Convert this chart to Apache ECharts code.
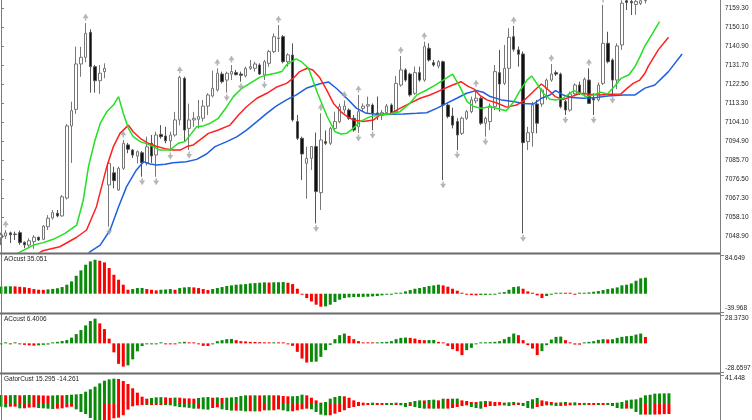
<!DOCTYPE html>
<html>
<head>
<meta charset="utf-8">
<script src="https://cdn.jsdelivr.net/npm/echarts@6/dist/echarts.min.js"></script>
<style>
  html, body { margin: 0; padding: 0; background: #fff; }
  #main { width: 752px; height: 420px; }
</style>
</head>
<body>
<div id="main"></div>
<script>
// candles, one per bar (index 0 .. 137)
var opens = [7048,7048.9,7050.4,7049.8,7050.5,7045.8,7044.5,7046.2,7048.3,7047.3,
  7053.4,7057.6,7059.9,7058.6,7067.3,7102.2,7110.2,7132.2,7135.4,7147.5,
  7130.9,7124.1,7128.5,7073.6,7079.5,7071.2,7081.7,7093,7090.5,7087.6,
  7089.2,7084.1,7093.8,7088.1,7098.1,7097.3,7095,7097.8,7105.1,7125.2,
  7101,7105.1,7105.4,7105.9,7111.8,7116.7,7119.6,7127.3,7124.4,7127.3,
  7128,7127.3,7126.4,7130.1,7130.1,7131.7,7126.9,7132.5,7138.2,7144.5,
  7145.4,7133.3,7136.5,7104.3,7096.2,7084.1,7086.5,7092.2,7069.9,7094.6,
  7093.8,7101,7104.3,7109.9,7109.9,7105.9,7101.8,7110.7,7111.8,7112.3,
  7108.5,7107.5,7108.6,7112.3,7109.1,7122,7129.3,7127.3,7118,7128,
  7124.4,7139.8,7132.8,7131.2,7133.3,7112.3,7107,7104.3,7098.6,7105.9,
  7109.1,7114.3,7115.6,7103.5,7104.3,7111.5,7128,7122.8,7130.1,7145.4,
  7139,7137,7094.6,7098.9,7112.8,7112.8,7120.4,7124.4,7128,7127.3,
  7114,7109.9,7117.7,7122,7118,7124.4,7115.6,7114.8,7122.8,7142.2,
  7134.1,7124.4,7141.4,7162.8,7162.5,7161,7161.5,7162.8];
var highs = [7050.5,7051.8,7051,7051,7051.5,7046.3,7047.8,7049.3,7048.5,7054.2,
  7059,7061.5,7061.5,7068.7,7103.1,7113.9,7140.6,7140.5,7152,7149,
  7131.7,7131.7,7132.5,7085,7082.5,7082.5,7095.4,7094,7091,7090.3,
  7090,7097,7097.8,7099.4,7102.6,7101.8,7099.4,7109,7126.5,7126,
  7113,7109,7114.8,7114.8,7118,7129,7130.1,7128.5,7128.5,7131.7,
  7129.3,7128.5,7130.9,7134.1,7133.3,7132.5,7134.1,7139,7147,7151,
  7146.2,7137.4,7142.2,7107.5,7097,7092.2,7092.5,7099,7108.3,7100,
  7101.8,7109.1,7113,7114.5,7110.7,7107.5,7117.2,7113.1,7116.4,7113.1,
  7116.4,7109.9,7112.8,7113.1,7126.4,7136,7130.1,7128,7130.9,7130.9,
  7143,7142.2,7134.1,7134.1,7133.8,7113.1,7111,7105.9,7106.7,7109.9,
  7116.4,7120,7116.4,7106.7,7113.1,7131.7,7139,7141.4,7149.5,7150.6,
  7140.6,7138.2,7101.8,7113.9,7114.8,7120.4,7125.2,7132.2,7129,7128,
  7114.8,7118.8,7122.8,7123.6,7125.7,7130.1,7118,7123.2,7160.8,7147.8,
  7134.9,7142.2,7163,7164,7164,7164,7164,7164];
var lows = [7044.5,7047.5,7045.5,7047,7044.6,7043,7043,7042.7,7046.5,7046.9,
  7051.8,7056.9,7058,7058.3,7066.6,7084.3,7108,7126,7133,7118.3,
  7118.3,7117.7,7125.3,7053.4,7072,7070.8,7080.9,7089,7086.7,7084,
  7077.6,7083,7084.3,7077.6,7096,7093.8,7090,7097,7102.5,7094.6,
  7090.5,7101.8,7101,7104.3,7107.5,7116,7118.8,7122.8,7118.3,7124.4,
  7126.7,7123.6,7125.7,7129.3,7128.5,7126.9,7124.4,7130.9,7137.4,7138,
  7132.5,7130.9,7104.3,7095.4,7076,7067,7080.9,7055,7061.5,7093,
  7093,7100.2,7103.5,7108.3,7105.1,7099.4,7098.8,7109.1,7108.3,7100.2,
  7105.1,7105.1,7107.5,7107.5,7108.3,7121.2,7123.6,7116.4,7117.2,7123.6,
  7123.6,7133.3,7130.9,7130.1,7076,7105.9,7101,7090.5,7097.8,7105.1,
  7108.3,7113.1,7102.7,7097,7100.2,7109.9,7109.1,7122,7111.5,7138.2,
  7130.9,7050.2,7090.5,7092.2,7098.6,7111.5,7114.8,7123.6,7126.4,7110.7,
  7107.5,7109.1,7116.4,7117.2,7116.4,7112.8,7107.5,7114,7122,7132.5,
  7117.2,7120,7139,7158.3,7155.9,7156,7160.7,7161.5];
var closes = [7049.5,7050.4,7049.5,7049.6,7045.7,7044.6,7046.6,7048.3,7047,7053.7,
  7057.5,7060.2,7058.6,7067.9,7102.2,7109.6,7132.2,7135.4,7147,7130.9,
  7124.1,7127.7,7130.1,7084.1,7075.7,7081.7,7093.8,7090.9,7088.1,7089.7,
  7084.4,7092.1,7087.6,7097.8,7097,7095,7097.8,7105.1,7125.7,7100.2,
  7105.1,7105.9,7106.7,7111.8,7117.2,7120.4,7127.7,7123.6,7127.7,7128.5,
  7127,7126.7,7130.1,7130.9,7132.2,7127.3,7133.3,7138.2,7145.4,7144.8,
  7133.3,7136.6,7105.1,7096.2,7088.6,7086.5,7092.2,7070.4,7095.4,7093.8,
  7101,7104.3,7111.5,7111.8,7105.9,7100.2,7109.1,7111.8,7112.5,7108.3,
  7108.1,7108.6,7111.8,7108.3,7122.8,7129.3,7124.4,7117.2,7128,7124.4,
  7140.6,7134.1,7131.7,7133.3,7112.3,7106.7,7102.6,7097.8,7105.9,7109.1,
  7114.8,7115.6,7103.5,7105.9,7111.8,7128.5,7122.5,7130.1,7145.1,7139.3,
  7136.9,7094.1,7098.9,7112.3,7103.5,7119.6,7124.4,7127.3,7127.3,7111.5,
  7109.9,7117.7,7122,7118,7124.8,7113.1,7114.8,7122,7142.2,7133.3,
  7124.4,7140.9,7161.6,7162,7161.8,7162.5,7162.8,7163];

// bars that carry a fractal arrow
var fractalUp = [1,18,26,38,46,49,59,68,73,76,85,90,101,109,117,125,128];
var fractalDown = [23,30,33,36,40,48,51,56,67,76,79,94,97,103,111,120,126,130];

// alligator lines, [bar, price]
var jaw = [[18.5,7040.5],[19.3,7041.8],[21.1,7044.5],[23.2,7051.8],[25,7063.1],[26.7,7072.8],
  [28.8,7080.9],[30.3,7084.9],[31.7,7083.8],[33.1,7083.3],[34.9,7083.6],[36.6,7084.4],[39.4,7084.9],
  [41.6,7086],[43.7,7088.6],[45.5,7092.2],[48,7094.6],[50.2,7097],[52.2,7100.2],[54.4,7104.3],
  [56.5,7108.3],[58.5,7111.8],[60.7,7114.8],[62.8,7117.2],[64.9,7120.4],[66.3,7121.5],[67.8,7122.6],
  [69.6,7123.5],[71.4,7120.2],[73.5,7115.6],[75.6,7110.7],[77.7,7108.3],[79.9,7107.8],[82.7,7107.8],
  [85.5,7108],[88.4,7108.3],[90.5,7108.6],[92.6,7110.7],[94.7,7113.1],[96.9,7115.6],[99,7118],
  [101,7119.3],[102.5,7118.5],[104,7116.4],[106.4,7114.8],[108.9,7114],[111,7113.1],[113.2,7112.8],
  [114.9,7115.6],[116.7,7117.2],[117.9,7119.3],[119.5,7117.2],[121.3,7116],[123.8,7115.6],
  [126.5,7116],[129,7116.7],[132.3,7117.2],[134.8,7117.2],[136.9,7120.5],[139,7122],[141.9,7128.5],
  [144.8,7137]];
var teeth = [[8,7040.5],[8.9,7041.8],[12.5,7043.7],[16.1,7048.3],[18.2,7051.8],[20.3,7063.1],
  [22.5,7082.5],[23.9,7092.2],[25.3,7098.6],[27.1,7102.6],[28.1,7099.4],[29.6,7096.2],[31.3,7093.8],
  [33.1,7092.2],[34.9,7091.2],[36.5,7090.5],[38.1,7090.5],[39.5,7092.2],[40.9,7093],[42.3,7095.4],
  [44.1,7098.6],[46.2,7100.2],[48.7,7102.6],[50.5,7107.5],[52.2,7111.5],[54.4,7115.6],[56.5,7118],
  [58.5,7120.9],[60.7,7122.8],[62.1,7125.2],[63.5,7128.5],[65.1,7130.1],[66.3,7129.3],[67.7,7125.8],
  [69.2,7119.8],[70.7,7113.1],[72.3,7109],[73.6,7106.7],[74.9,7105.1],[77,7104.3],[79.2,7105.1],
  [80.6,7107.5],[82.7,7108],[84.8,7110.7],[86.9,7113.1],[89.1,7115.6],[91.2,7117.2],[93.3,7119.3],
  [95.5,7121.5],[97.8,7123.6],[99.4,7121.2],[100.6,7120],[101.8,7117],[103.3,7114.8],[105.4,7113.3],
  [107.5,7111.3],[109.6,7112.3],[111.2,7114.5],[113.5,7119.6],[114.9,7122.5],[116.4,7119.6],
  [117.8,7116.4],[119.5,7115],[121.3,7116.4],[123.1,7118],[125.2,7117.5],[127.3,7117.2],
  [129.5,7117.5],[131.8,7117.7],[133.1,7120.4],[134.4,7122.8],[135.8,7124.4],[136.9,7127.7],
  [137.6,7131],[139.7,7138.9],[141.9,7145.1]];
var lips = [[3.5,7040.5],[6.9,7044.5],[9,7045.7],[11.1,7047.3],[13.6,7050.2],[16.1,7054.2],
  [17.5,7066.3],[18.6,7082.5],[20,7095.4],[21.1,7103.4],[22.5,7109.1],[23.9,7112.3],[25,7116.4],
  [26,7108.3],[27.1,7101],[28.1,7097],[29.6,7094.6],[31,7093.5],[32.4,7092.2],[33.8,7090.5],
  [35.9,7090.5],[37.7,7093.8],[39.1,7094.6],[40.5,7098.6],[41.6,7101.8],[43,7102.2],[44.5,7103.5],
  [46.2,7105.9],[48,7111.5],[49.4,7116.4],[51.2,7120.4],[52.9,7122.8],[55,7125.7],[56.5,7126.9],
  [58.3,7127.7],[59.7,7128.5],[60.7,7131.7],[62.7,7134.7],[63.9,7133.3],[65.4,7130],[67.3,7118],
  [69.3,7107],[71,7099.4],[72.3,7098.3],[73.5,7098.6],[74.9,7101],[76.3,7104.3],[78.5,7106.7],
  [80.6,7107.5],[82.7,7108],[84.8,7109.1],[86.9,7113.1],[88.4,7117.2],[90.5,7119.6],[92.3,7122],
  [94,7124.4],[96,7127.3],[97.6,7121],[99.1,7114],[100.5,7111.6],[102,7110.8],[104,7111.5],
  [106.1,7110.3],[107.4,7109.5],[108.9,7113.5],[110.3,7119.2],[111.8,7124.4],[112.8,7126.4],
  [113.9,7122.8],[115.3,7118],[116.7,7115.1],[118.1,7114.8],[119.5,7115.6],[120.9,7118],
  [121.8,7119.3],[123.1,7118],[124.5,7116.4],[125.9,7117.2],[127.5,7118.5],[128.9,7117.7],
  [130.5,7121.5],[131.8,7125.2],[133.5,7127],[134.8,7131],[135.8,7135.5],[136.9,7141],
  [138.3,7146.2],[140,7152.7]];

// indicator panels
var aoValues = [15.5,16,16.3,16,15.2,14.2,12.4,10.2,8.7,8.5,
  9.5,10.5,12,14.6,19.7,27,39.3,51,63.4,70.7,
  74.3,72.1,68.5,56.1,41.5,30.6,19.7,8.7,10.2,12.4,
  12.6,10.2,8.7,7.3,8.7,9.3,10.2,8.7,12.4,13.8,
  14.5,13.8,12.4,10.2,8.0,10.2,12.4,14.6,16.8,18.2,
  19.7,20.4,21.1,22.6,23.3,24.0,24.8,24.4,24.9,25.1,
  25.5,24.0,21.1,10.9,-0.7,-9.5,-16.8,-24.0,-28.4,-27.7,
  -24,-18.2,-13.1,-9.5,-8.0,-7.3,-7.0,-6.9,-6.6,-5.8,
  -5.1,-3.6,-2.2,-1.5,0.2,2.2,5.1,8.0,10.9,12.4,
  14.6,16.8,18.2,19.7,18.2,15.3,10.9,6.6,2.2,-0.7,
  -2.9,-3.6,-2.9,-2.6,-2.2,-1.5,0,3.6,8.7,14.6,
  16.0,10.9,5.1,0.7,-3.6,-9.5,-5.1,-1.5,0.7,2.2,
  1.5,0.7,-0.4,0,1.5,2.9,4.4,5.8,8.0,10.2,
  11.7,13.8,18.2,19.7,22.6,28.4,33.5,35.051];
var acValues = [-0.3,0.3,-0.3,0.2,-0.5,-1.5,-2,-2.3,-2,-1.5,
  -1.2,0.5,1.5,2.3,3.3,5.7,9.3,13.3,18,22.3,
  24.7,20,14.3,4.7,-9,-20.5,-23.3,-22,-16,-8,
  -2.7,-0.8,-0.4,-0.3,0.3,-0.3,-0.5,-0.8,0.3,1.5,
  0.5,0.3,-0.5,-2.5,-2.6,-0.5,2.2,3.2,4.2,4.4,
  3.2,2.2,1.9,1.5,1.4,1.2,0.8,0.5,0.6,0.5,
  0.4,-0.3,-2.5,-8.5,-15.2,-19.2,-18.5,-18.3,-13.5,-6.8,
  -1.5,4.2,8.2,9.8,7.5,4.2,2.2,0.8,0.5,0.4,
  0.8,1.2,1.5,2.2,4.2,5.5,5.8,5.5,4.8,3.5,
  3.2,3.3,3.4,1.5,0.8,-2.5,-5.8,-7.8,-11.8,-6.8,
  -4.5,-0.5,0.3,0.8,1.2,1.5,2.2,4.2,6.5,9.8,
  8.2,3.2,-1.8,-5.2,-11.8,-7.8,-1.8,3.8,6.5,6.8,
  3.2,0.8,-1.2,-1.3,0.5,1.5,2.2,3.5,4.2,4.0,
  4.1,5.5,6.5,7.2,7.5,8.8,9.8,6.4006];
var gatorUp = [12.9,12.4,12.6,12.9,12.4,12.6,12.9,12.6,12.4,12.2,
  12.0,12.2,12.6,12.4,12.9,13.3,13.8,14.3,17.6,21,
  24.8,29.5,33.3,35.2,36.2,35.7,32.9,28.6,22.4,16.2,
  10.5,7.6,8.6,9.5,9.8,9.5,8.8,9.2,9.0,8.1,
  8.0,7.6,8.6,9.5,10.0,9.0,9.5,8.6,9.0,9.5,
  10.0,11.4,12.4,12.3,12.4,12.3,12.4,12.5,12.4,12.3,
  11.4,11.0,11.1,11.4,13.3,12.4,9.0,5.2,1.9,2.9,
  7.6,10.0,11.4,11.0,9.0,5.2,2.9,1.9,1.4,1.9,
  1.4,1.5,1.4,1.5,1.9,0.5,0.6,2.9,4.3,5.2,
  5.1,5.7,6.2,5.2,7.6,7.5,7.6,7.7,5.2,4.3,
  2.9,2.8,3.8,4.3,3.8,2.9,2.8,1.9,2.4,2.9,
  1.9,0.5,4.3,6.7,8.6,5.2,3.8,2.9,1.9,2.4,
  2.9,1.9,2.4,1.4,1.5,1.4,1.5,1.4,0.5,0.6,
  0.5,1.9,2.9,5.2,6.2,6.7,9.0,12.4,13.3,14.8,
  15.0,15.2,15.295];
var gatorDown = [-3.8,-4.8,-3.8,-3.8,-6.2,-6.2,-5.2,-4.8,-5.7,-6.2,
  -6.7,-7.1,-6.7,-6.2,-4.8,-3.8,-7.6,-11.4,-14.3,-20,
  -24.8,-27,-25,-23,-20.5,-19.5,-16,-8,-3.3,-1.9,
  -1,-1.4,-0.7,-0.3,-0.3,-1,-1.9,-3.3,-4.3,-4.8,
  -5.5,-6.7,-6.7,-7.6,-8.1,-5.7,-4.8,-7.6,-8.6,-9.5,
  -9.5,-9.6,-10.5,-10.4,-10.6,-10.5,-9.0,-9.1,-9.0,-7.6,
  -9.0,-10.5,-10.4,-9.0,-7.6,-6.7,-7.6,-11.4,-15.2,-16.2,
  -16.1,-13.8,-11.4,-9.0,-5.7,-4.3,-2.9,-1.9,-1.0,-1.1,
  -0.5,-0.4,-0.5,-1.0,-0.9,-1.9,-4.3,-2.9,-4.3,-5.7,
  -6.7,-6.6,-6.7,-6.6,-6.7,-6.6,-5.7,-4.3,-2.9,-1.9,
  -4.3,-5.7,-6.7,-4.3,-2.9,-2.8,-1.9,-2.0,-2.9,-1.0,
  -0.9,-2.9,-5.7,-6.7,-4.3,-2.9,-1.9,-2.0,-2.9,-2.8,
  -2.4,-1.9,-2.0,-1.4,-1.5,-1.0,-0.9,-1.0,-0.9,-1.0,
  -2.9,-5.7,-6.7,-6.6,-6.7,-11.4,-15.2,-15.1,-15.2,-15.1,
  -14.8,-14.5,-14.261];

// axis labels
var priceTicks = [7159.30,7150.10,7140.90,7131.70,7122.50,7113.30,7104.10,7094.90,7085.70,7076.50,7067.30,7058.10,7048.90];
var aoScale = ['-39.968', '84.649'];
var acScale = ['-28.6597', '28.3730'];
var gatorScale = ['41.448'];

var FONT = 'Liberation Sans';
var GREEN = '#0a8a0a', RED = '#ff0000';
var NBARS = 153;              // slots across the plot, incl. the shifted lines
var gridLeft = -1.38, gridWidth = 719.71;

var cats = [];
for (var i = 0; i < NBARS; i++) cats.push(i);

var candles = [];
for (var i = 0; i < opens.length; i++) {
  candles.push([opens[i], closes[i], lows[i], highs[i]]);
}

// green when the bar grew against the previous one, red otherwise
function trendBars(vals, useAbs) {
  return vals.map(function (v, i) {
    var a = useAbs ? Math.abs(v) : v;
    var p = i > 0 ? (useAbs ? Math.abs(vals[i - 1]) : vals[i - 1]) : a - 1;
    return { value: v, itemStyle: { color: a > p ? GREEN : RED } };
  });
}

function scaleAxis(grid, labels, min, max, minAlign) {
  var nums = labels.map(Number);
  return {
    type: 'value', gridIndex: grid, position: 'right', offset: 2.7,
    min: min, max: max,
    axisLine: { show: false },
    splitLine: { show: false },
    axisTick: { show: true, length: 3, customValues: nums, lineStyle: { color: '#808080' } },
    axisLabel: {
      customValues: nums, margin: 4, fontSize: 6.5, color: '#222', fontFamily: FONT,
      verticalAlignMinLabel: minAlign || 'bottom', verticalAlignMaxLabel: 'top',
      formatter: function (v) {
        var best = 0;
        for (var j = 1; j < nums.length; j++) {
          if (Math.abs(nums[j] - v) < Math.abs(nums[best] - v)) best = j;
        }
        return labels[best];
      }
    }
  };
}

var upArrow = 'path://M4,0 L8,6 L5,6 L5,9 L3,9 L3,6 L0,6 Z';
var downArrow = 'path://M3,0 L5,0 L5,3 L8,3 L4,9 L0,3 L3,3 Z';

var myChart = echarts.init(document.getElementById('main'), null, { renderer: 'canvas' });

function catAxis(g) {
  return { type: 'category', gridIndex: g, data: cats, boundaryGap: true, show: false };
}
function gridAt(top, height) {
  return { left: gridLeft, width: gridWidth, top: top, height: height, outerBoundsMode: 'none', containLabel: false };
}

var last = aoValues.length - 1;

myChart.setOption({
  animation: false,
  backgroundColor: '#fff',
  title: [
    { text: 'AOcust ' + aoValues[last], left: 4, top: 256, padding: 0,
      textStyle: { fontSize: 6.5, fontWeight: 'normal', color: '#222', fontFamily: FONT } },
    { text: 'ACcust ' + acValues[last], left: 4, top: 316, padding: 0,
      textStyle: { fontSize: 6.5, fontWeight: 'normal', color: '#222', fontFamily: FONT } },
    { text: 'GatorCust ' + gatorUp[gatorUp.length - 1] + ' ' + gatorDown[gatorDown.length - 1], left: 4, top: 376, padding: 0,
      textStyle: { fontSize: 6.5, fontWeight: 'normal', color: '#222', fontFamily: FONT } }
  ],
  grid: [gridAt(0, 252), gridAt(255, 57), gridAt(315, 57), gridAt(375, 58)],
  xAxis: [
    catAxis(0), catAxis(1), catAxis(2), catAxis(3),
    { type: 'value', gridIndex: 0, min: -0.5, max: NBARS - 0.5, show: false }
  ],
  yAxis: [
    {
      type: 'value', gridIndex: 0, position: 'right', offset: 2.7,
      min: 7041.15, max: 7163.17,
      axisLine: { show: false },
      splitLine: { show: false },
      axisTick: { show: true, length: 3, customValues: priceTicks, lineStyle: { color: '#808080' } },
      axisLabel: {
        customValues: priceTicks, margin: 4, fontSize: 6.5, color: '#222', fontFamily: FONT,
        formatter: function (v) { return v.toFixed(2); }
      }
    },
    scaleAxis(1, aoScale, Number(aoScale[0]), Number(aoScale[1])),
    scaleAxis(2, acScale, Number(acScale[0]), Number(acScale[1])),
    scaleAxis(3, gatorScale, -Number(gatorScale[0]), Number(gatorScale[0]), 'top')
  ],
  series: [
    {
      type: 'candlestick', xAxisIndex: 0, yAxisIndex: 0, data: candles,
      barWidth: 3, z: 2,
      itemStyle: { color: '#ffffff', color0: '#111111', borderColor: '#777777', borderColor0: '#555555', borderWidth: 1 }
    },
    { type: 'line', xAxisIndex: 4, yAxisIndex: 0, data: jaw, showSymbol: false, z: 3, clip: true,
      lineStyle: { color: '#1f5fe0', width: 1.5 } },
    { type: 'line', xAxisIndex: 4, yAxisIndex: 0, data: teeth, showSymbol: false, z: 3, clip: true,
      lineStyle: { color: '#ff2020', width: 1.5 } },
    { type: 'line', xAxisIndex: 4, yAxisIndex: 0, data: lips, showSymbol: false, z: 3, clip: true,
      lineStyle: { color: '#22e022', width: 1.5 } },
    { type: 'scatter', xAxisIndex: 4, yAxisIndex: 0, z: 4,
      data: fractalUp.map(function (k) { return [k, highs[k]]; }),
      symbol: upArrow, symbolSize: [6, 7], symbolOffset: [0, -6],
      itemStyle: { color: '#a4a4a4' } },
    { type: 'scatter', xAxisIndex: 4, yAxisIndex: 0, z: 4,
      data: fractalDown.map(function (k) { return [k, lows[k]]; }),
      symbol: downArrow, symbolSize: [6, 7], symbolOffset: [0, 5],
      itemStyle: { color: '#a4a4a4' } },
    { type: 'bar', xAxisIndex: 1, yAxisIndex: 1, data: trendBars(aoValues, false), barWidth: 3, barMinHeight: 1 },
    { type: 'bar', xAxisIndex: 2, yAxisIndex: 2, data: trendBars(acValues, false), barWidth: 3, barMinHeight: 1 },
    { type: 'bar', xAxisIndex: 3, yAxisIndex: 3, data: trendBars(gatorUp, true), barWidth: 3, barMinHeight: 1, barGap: '-100%' },
    { type: 'bar', xAxisIndex: 3, yAxisIndex: 3, data: trendBars(gatorDown, true), barWidth: 3, barMinHeight: 1, barGap: '-100%' }
  ],
  graphic: [
    { type: 'rect', z: 100, shape: { x: 0, y: 252.5, width: 721, height: 2 }, style: { fill: '#6b6b6b' } },
    { type: 'rect', z: 100, shape: { x: 0, y: 312.5, width: 721, height: 2 }, style: { fill: '#6b6b6b' } },
    { type: 'rect', z: 100, shape: { x: 0, y: 372.5, width: 721, height: 2 }, style: { fill: '#6b6b6b' } },
    { type: 'line', z: 100, shape: { x1: 720.5, y1: 0, x2: 720.5, y2: 420 }, style: { stroke: '#808080', lineWidth: 1 } },
    { type: 'line', z: 100, shape: { x1: 1.5, y1: 0, x2: 1.5, y2: 420 }, style: { stroke: '#7a7a7a', lineWidth: 1 } }
  ]
});
</script>
</body>
</html>
